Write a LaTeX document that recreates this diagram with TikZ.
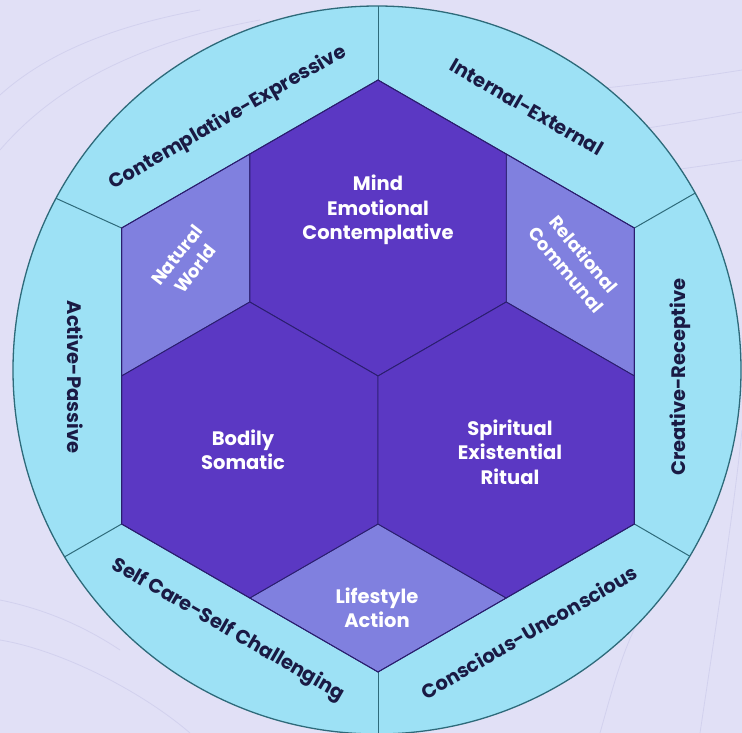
\documentclass[tikz,border=0pt]{standalone}
\usepackage{fontspec}
\setmainfont{Poppins}
\definecolor{bgc}{HTML}{E1E0F6}
\definecolor{bandc}{HTML}{9DE1F5}
\definecolor{rimc}{HTML}{2E6A7A}
\definecolor{hexc}{HTML}{5B38C3}
\definecolor{rhc}{HTML}{8080DF}
\definecolor{edgec}{HTML}{2A1E6E}
\definecolor{darktxt}{HTML}{1A1A44}
\definecolor{faint}{HTML}{D2D1EE}
\tikzset{
  hexface/.style={fill=hexc, draw=edgec, line width=0.9pt, line join=miter},
  rhface/.style={fill=rhc, draw=edgec, line width=0.9pt, line join=miter},
  innerlbl/.style={text=white, font=\fontsize{19.5}{24.5}\selectfont\bfseries, align=center, inner sep=0pt},
  slantlbl/.style={text=white, font=\fontsize{18}{20}\selectfont\bfseries, inner sep=0pt},
  bandlbl/.style={text=darktxt, font=\fontsize{19.5}{22}\selectfont\bfseries, inner sep=0pt},
  divider/.style={draw=rimc, line width=1pt},
  bgline/.style={draw=faint, line width=0.8pt}
}
\begin{document}
\begin{tikzpicture}[x=1pt,y=-1pt]
\useasboundingbox (0,0) rectangle (742,733);
\fill[bgc] (0,0) rectangle (742,733);
% faint background curves
\begin{scope}
\clip (0,0) rectangle (742,733);
\draw[bgline] (0,150) .. controls (60,80) and (150,40) .. (260,20);
\draw[bgline] (0,95) .. controls (50,50) and (120,25) .. (200,10);
\draw[bgline] (520,95) .. controls (600,90) and (680,80) .. (742,70);
\draw[bgline] (560,140) .. controls (640,130) and (700,120) .. (742,112);
\draw[bgline] (600,180) .. controls (660,172) and (710,165) .. (742,160);
\draw[bgline] (742,430) .. controls (735,500) and (720,600) .. (700,733);
\draw[bgline] (600,733) .. controls (615,680) and (625,640) .. (650,600);
\draw[bgline] (0,640) .. controls (60,650) and (140,690) .. (190,733);
\draw[bgline] (0,600) .. controls (50,610) and (90,630) .. (120,650);
\end{scope}
% outer circle band
\fill[bandc] (377,370) circle (364);
\begin{scope}
\clip (377,370) circle (364);
\draw[divider] (378,80) -- (378,0);
\draw[divider] (634.4,228) -- (751,161);
\draw[divider] (121.6,228) -- (0,173);
\draw[divider] (121.6,524) -- (-5,597);
\draw[divider] (634.4,524) -- (760,597);
\draw[divider] (378,672) -- (378,740);
\end{scope}
\draw[rimc, line width=1.3pt] (377,370) circle (364);
% rhombi
\filldraw[rhface] (121.6,228) -- (249.8,154) -- (249.8,302) -- (121.6,376) -- cycle;
\filldraw[rhface] (506.2,154) -- (634.4,228) -- (634.4,376) -- (506.2,302) -- cycle;
\filldraw[rhface] (378,524) -- (506.2,598) -- (378,672) -- (249.8,598) -- cycle;
% hexagons
\filldraw[hexface] (378,80) -- (506.2,154) -- (506.2,302) -- (378,376) -- (249.8,302) -- (249.8,154) -- cycle;
\filldraw[hexface] (249.8,302) -- (378,376) -- (378,524) -- (249.8,598) -- (121.6,524) -- (121.6,376) -- cycle;
\filldraw[hexface] (506.2,302) -- (634.4,376) -- (634.4,524) -- (506.2,598) -- (378,524) -- (378,376) -- cycle;
% outline of hex cluster
\draw[edgec, line width=0.9pt] (378,80) -- (634.4,228) -- (634.4,524) -- (378,672) -- (121.6,524) -- (121.6,228) -- cycle;
% inner labels
\node[innerlbl] (mind) at (378,210) {Mind\\Emotional\\Contemplative};
\node[innerlbl] (bodily) at (243,450) {Bodily\\Somatic};
\node[innerlbl] (spirit) at (510,452) {Spiritual\\Existential\\Ritual};
\node[innerlbl] (life) at (377,608) {Lifestyle\\Action};
\node[slantlbl, rotate=52] (natural) at (177,255) {Natural};
\node[slantlbl, rotate=52] (world) at (195,269) {World};
\node[slantlbl, rotate=-50] (relational) at (584,254) {Relational};
\node[slantlbl, rotate=-50] (communal) at (566,270) {Communal};
% band labels
\node[bandlbl, rotate=30] (ce) at (228,118) {Contemplative-Expressive};
\node[bandlbl, rotate=-30] (ie) at (527,107) {Internal-External};
\node[bandlbl, rotate=-90] (ap) at (75,377) {Active-Passive};
\node[bandlbl, rotate=90] (cr) at (680,377) {Creative-Receptive};
\node[bandlbl, rotate=-30] (sc) at (228,630) {Self Care-Self Challenging};
\node[bandlbl, rotate=30] (cu) at (529,632) {Conscious-Unconscious};
\end{tikzpicture}
\end{document}
